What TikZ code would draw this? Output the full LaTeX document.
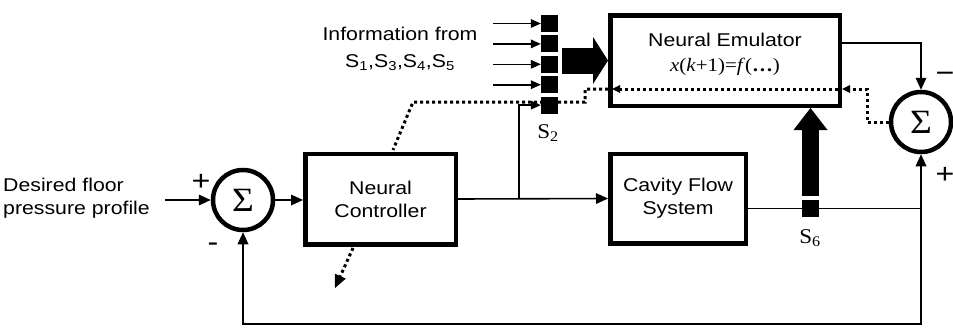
\documentclass[tikz,border=0pt]{standalone}
\usepackage{fontspec}
\setmainfont[FakeStretch=1.15]{Liberation Sans}
\newfontfamily\serifnum[FakeStretch=1.1]{Liberation Serif}
\usetikzlibrary{arrows.meta}
\newcommand{\lab}{\fontsize{18.5}{23}\selectfont}
\newcommand{\sigfont}{\serifnum\fontsize{34}{34}\selectfont}
\newcommand{\sfont}{\serifnum\fontsize{21}{21}\selectfont}
\begin{document}
\begin{tikzpicture}[x=1pt,y=-1pt,
  box/.style={draw, line width=4.5pt, inner sep=0pt, align=center, font=\lab},
  sumn/.style={draw, circle, line width=4.5pt, minimum size=60pt, inner sep=0pt, font=\sigfont},
  sq/.style={fill, minimum size=17pt, inner sep=0pt},
  conn/.style={line width=1.6pt},
  arr/.style={conn, -{Triangle[length=12pt,width=11pt,line width=0pt]}},
  sarr/.style={conn, -{Triangle[length=10pt,width=9pt,line width=0pt]}},
  fat/.style={line width=26pt, -{Triangle[length=15pt,width=47pt,line width=0pt]}},
  fatup/.style={line width=17pt, -{Triangle[length=22pt,width=34pt,line width=0pt]}},
  dotl/.style={line width=3pt, dash pattern=on 3pt off 3pt},
  darr/.style={dotl, -{Triangle[length=8pt,width=8pt,line width=0pt]}},
  darrb/.style={dotl, -{Triangle[length=13pt,width=12pt,line width=0pt]}},
  txt/.style={inner sep=0pt, font=\lab},
  sign/.style={inner sep=0pt, font=\fontsize{28}{28}\selectfont}
]
\useasboundingbox (0,0) rectangle (953,327);

% blocks
\node[box, minimum width=229.5pt, minimum height=90.5pt] (emu) at (725,60.5) {};
\node[txt] (emut) at (725,40) {Neural Emulator};
\node[inner sep=0pt, font=\serifnum\fontsize{19}{19}\selectfont] (emuf) at (725,67)
  {\textit{x}(\textit{k}+1)=\textit{f}(\textbf{…})};
\node[box, minimum width=150.5pt, minimum height=90.5pt] (nc) at (380.5,199) {Neural\\Controller};
\node[box, minimum width=135.5pt, minimum height=89.5pt] (cfs) at (678,198.5) {Cavity Flow\\System};
\node[sumn] (sum1) at (243,200) {Σ};
\node[sumn] (sum2) at (921,122) {Σ};

% texts
\node[txt, align=center, font=\fontsize{18.5}{27}\selectfont] (info) at (400,48.5)
  {Information from\\S\textsubscript{1},S\textsubscript{3},S\textsubscript{4},S\textsubscript{5}};
\node[txt, anchor=west, align=left] (des) at (3,198.5) {Desired floor\\pressure profile};
\node[sign] (p1) at (201,182) {+};
\node[sign] (m1) at (213,247) {-};
\node[sign] (m2) at (945,77) {−};
\node[sign] (p2) at (945,175) {+};

% sensor column S2
\foreach \i in {1,...,5} {
  \node[sq] (s2\i) at (549.5,{23.5+20.4*(\i-1)}) {};
}
\node[inner sep=0pt, font=\sfont] (s2l) at (548,133) {S\textsubscript{2}};
\foreach \i in {1,...,4} {
  \draw[sarr] ([xshift=-48pt]s2\i.west) -- (s2\i.west);
}

% main loop
\coordinate (in) at (165,200);
\draw[arr] (in) -- (sum1.west);
\draw[arr] (sum1.east) -- (sum1.east -| nc.west);
\draw[arr] (nc.east) -- (cfs.west);
\coordinate (br) at (519,199);
\draw[sarr] (br) |- (s25.west);

% fat arrow into emulator
\draw[fat] ([xshift=4pt]s23.east |- emu.west) -- (emu.west);

% emulator output to sum2
\draw[arr] ([yshift=17.5pt]emu.east) -| (sum2.north);

% plant output
\coordinate (o1) at ([yshift=-10pt]cfs.east);
\draw[arr] (o1) -| (sum2.south);
\coordinate (fb) at (921,324);
\draw[arr] (o1 -| sum2.south) -- (fb) -| (sum1.south);

% sensor S6 and arrow up
\node[sq] (s6) at (810.5,208.5) {};
\draw[fatup] ([yshift=4pt]s6.north) -- (s6.north |- emu.south);
\node[inner sep=0pt, font=\sfont] (s6l) at (810,238) {S\textsubscript{6}};

% dotted error back-propagation path
\coordinate (d1) at (867,89);
\coordinate (d2) at (585,102);
\coordinate (d3) at (413,102);
\coordinate (d4) at (393,150);
\coordinate (d5) at (353,248);
\coordinate (d6) at (335,288);
\draw[darr] (sum2.west) -| (d1) -- (d1 -| emu.east);
\draw[darr] ([xshift=-4.5pt]d1 -| emu.east) -- ([xshift=4pt]d1 -| emu.west);
\draw[dotl] (d1 -| emu.west) -| (d2) -- (d3) -- (d4);
\draw[darrb] (d5) -- (d6);
\end{tikzpicture}
\end{document}
